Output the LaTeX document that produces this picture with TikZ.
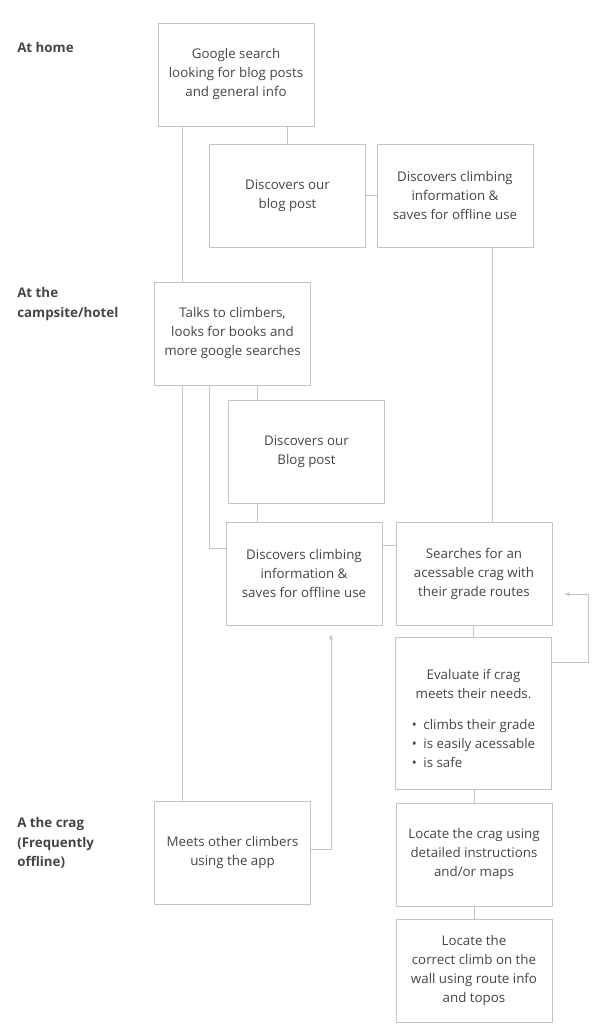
\documentclass[tikz,border=0pt]{standalone}
\usepackage{fontspec}
\setmainfont{Open Sans}
\usetikzlibrary{arrows.meta}
\definecolor{boxline}{HTML}{C4C4C4}
\definecolor{ink}{HTML}{454545}
\begin{document}
\begin{tikzpicture}[x=0.75pt, y=-0.75pt,
    card/.style={draw=boxline, line width=.75pt, text=ink, align=center, minimum width=117pt, minimum height=77.25pt, inner sep=2pt, outer sep=0pt, font=\fontsize{10}{14.25}\selectfont},
    stage/.style={anchor=west, align=left, text=ink, inner sep=0pt, font=\fontsize{10}{14.8}\selectfont\bfseries},
    link/.style={draw=boxline, line width=.75pt},
    back/.style={link, -{Latex[length=4pt, width=3.2pt]}}]
    \useasboundingbox (0,0) rectangle (600,1035);

    %stages
    \node[stage] (home) at (17,47) {At home};
    \node[stage] (camp) at (17,304) {At the\\campsite/hotel};
    \node[stage] (crag) at (17,843) {A the crag\\(Frequently\\offline)};

    %at home
    \node[card] (google) at (236,74.5) {Google search\\looking for blog posts\\and general info};
    \node[card] (blog1) at (287.5,195.5) {Discovers our\\blog post};
    \node[card] (info1) at (455,195.5) {Discovers climbing\\information \&\\saves for offline use};

    %at the campsite
    \node[card] (talks) at (232.5,333.5) {Talks to climbers,\\looks for books and\\more google searches};
    \node[card] (blog2) at (306.5,451.5) {Discovers our\\Blog post};
    \node[card] (info2) at (304,573.5) {Discovers climbing\\information \&\\saves for offline use};
    \node[card] (search) at (474,573.5) {Searches for an\\acessable crag with\\their grade routes};
    \node[card, minimum height=114pt] (eval) at (473.5,713) {\rule{0pt}{20pt}Evaluate if crag\\meets their needs.\\[9pt]
        \begin{tabular}[t]{@{}l@{\hspace{5pt}}l@{}}
        \textbullet & climbs their grade\\
        \textbullet & is easily acessable\\
        \textbullet & is safe
        \end{tabular}};

    %at the crag
    \node[card] (meets) at (232.5,853) {Meets other climbers\\using the app};
    \node[card] (locate) at (474,854.5) {Locate the crag using\\detailed instructions\\and/or maps};
    \node[card] (climb) at (474,970.5) {Locate the\\correct climb on the\\wall using route info\\and topos};

    %left trunk
    \coordinate (trunk) at (182,0);
    \draw[link] (trunk |- google.south) -- (trunk |- talks.north);
    \draw[link] (trunk |- talks.south) -- (trunk |- meets.north);

    %home links
    \draw[link] (blog1.north |- google.south) -- (blog1.north);
    \draw[link] (blog1.east) -- (info1.west);
    \coordinate (drop) at (492,0);
    \draw[link] (drop |- info1.south) -- (drop |- search.north);

    %campsite links
    \coordinate (mid) at (257,0);
    \draw[link] (mid |- talks.south) -- (mid |- blog2.north);
    \draw[link] (mid |- blog2.south) -- (mid |- info2.north);
    \coordinate (side) at (209,548);
    \draw[link] (side |- talks.south) -- (side) -- (side -| info2.west);
    \coordinate (bridge) at (0,545);
    \draw[link] (bridge -| info2.east) -- (bridge -| search.west);
    \draw[link] (eval.north |- search.south) -- (eval.north);

    %loop back to the search
    \coordinate (retry) at (588,662);
    \coordinate (retry end) at (564,594);
    \draw[back] (retry -| eval.east) -- (retry) |- (retry end);

    %crag links
    \draw[link] (locate.north |- eval.south) -- (locate.north);
    \draw[link] (locate.south) -- (climb.north);
    \coordinate (hook) at (331,849);
    \coordinate (lift) at (331,634);
    \draw[back] (hook -| meets.east) -- (hook) -- (lift);
\end{tikzpicture}
\end{document}
